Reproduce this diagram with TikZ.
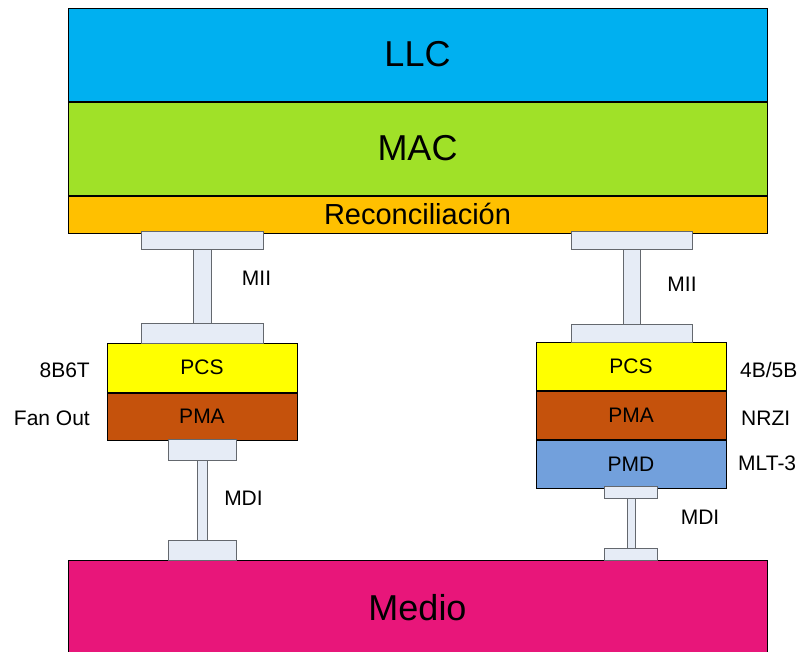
\documentclass[tikz,border=0pt]{standalone}
\usepackage{fontspec}
\setmainfont{Liberation Sans}
\usetikzlibrary{positioning}

\definecolor{llcblue}{RGB}{0,176,240}
\definecolor{macgreen}{RGB}{160,225,40}
\definecolor{recorange}{RGB}{255,192,0}
\definecolor{pcsyellow}{RGB}{255,255,0}
\definecolor{pmabrown}{RGB}{197,82,12}
\definecolor{pmdblue}{RGB}{114,160,220}
\definecolor{mediopink}{RGB}{232,22,122}
\definecolor{plate}{RGB}{230,236,246}
\definecolor{plateedge}{RGB}{100,104,110}

\begin{document}
\begin{tikzpicture}[x=1pt,y=-1pt,
	layer/.style={draw,line width=1pt,inner sep=0pt,minimum width=699},
	sublayer/.style={draw,line width=1pt,inner sep=0pt,minimum width=190,minimum height=48,font=\fontsize{21}{24}\selectfont},
	tag/.style={inner sep=0pt,font=\fontsize{21}{24}\selectfont},
	plate/.style={fill=plate,draw=plateedge,line width=1pt}]
	\useasboundingbox (0,0) rectangle (802,651);

	% upper layers
	\node[layer,fill=llcblue,minimum height=93,font=\fontsize{36}{40}\selectfont] (llc) at (417.5,54.5) {LLC};
	\node[layer,fill=macgreen,minimum height=93,font=\fontsize{36}{40}\selectfont,below=0pt of llc] (mac) {MAC};
	\node[layer,fill=recorange,minimum height=37,text height=21pt,font=\fontsize{29}{32}\selectfont,below=0pt of mac] (rec) {Reconciliación};

	% medium
	\node[layer,fill=mediopink,minimum height=95,anchor=north,font=\fontsize{36}{40}\selectfont] (medio) at (417.5,560) {Medio};

	% left PHY (100BASE-T4)
	\node[sublayer,fill=pcsyellow,minimum height=49] (pcsl) at (202,367.5) {PCS};
	\node[sublayer,fill=pmabrown,minimum height=47,below=0pt of pcsl] (pmal) {PMA};
	\node[tag,anchor=base east] (codl) at (90,377) {8B6T};
	\node[tag,anchor=base east] (fanl) at (90,425) {Fan Out};

	% right PHY (100BASE-TX)
	\node[sublayer,fill=pcsyellow] (pcsr) at (631,366) {PCS};
	\node[sublayer,fill=pmabrown,below=0pt of pcsr] (pmar) {PMA};
	\node[sublayer,fill=pmdblue,below=0pt of pmar] (pmdr) {PMD};
	\node[tag,anchor=base west] (codr) at (740,377) {4B/5B};
	\node[tag,anchor=base west] (nrzr) at (741,425) {NRZI};
	\node[tag,anchor=base west] (mltr) at (738,470) {MLT-3};

	% MII connectors
	\draw[plate] (193,249) rectangle (211,323);
	\draw[plate] (141,231) rectangle (263,249);
	\draw[plate] (141,323) rectangle (263,343);
	\node[tag] (miil) at (256.5,278) {MII};
	\draw[plate] (623,249) rectangle (640,324);
	\draw[plate] (571,231) rectangle (692,249);
	\draw[plate] (571,324) rectangle (692,342);
	\node[tag] (miir) at (682,284) {MII};

	% MDI connectors
	\draw[plate] (197,460) rectangle (207,540);
	\draw[plate] (168,439) rectangle (236,460);
	\draw[plate] (168,540) rectangle (236,560);
	\node[tag] (mdil) at (243.5,498.5) {MDI};
	\draw[plate] (627,498) rectangle (635,548);
	\draw[plate] (604,486) rectangle (657,498);
	\draw[plate] (604,548) rectangle (657,560);
	\node[tag] (mdir) at (700,517.5) {MDI};
\end{tikzpicture}
\end{document}
